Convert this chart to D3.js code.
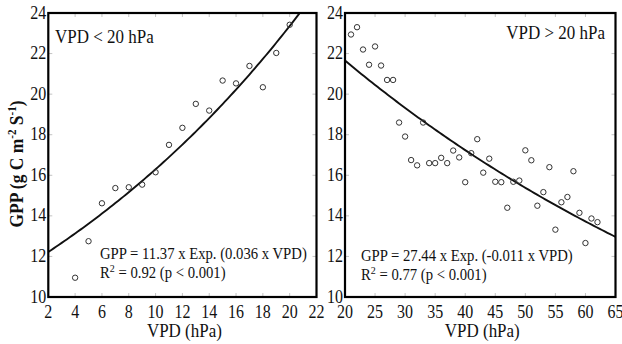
<!DOCTYPE html>
<html lang="en">
<head>
    <meta charset="UTF-8">
    <script src="https://d3js.org/d3.v7.min.js"></script>
    <style>
        body {
            margin: 0;
            background: #fff;
        }

        text {
            font-family: "Liberation Serif", "Times New Roman", serif;
            fill: #111;
        }
    </style>
    <title>GPP vs VPD</title>
</head>
<body>
<svg id="chart" width="622" height="344"></svg>
<script>
    // left panel: VPD < 20 hPa
    var lowVpd = [4, 5, 6, 7, 8, 9, 10, 11, 12, 13, 14, 15, 16, 17, 18, 19, 20]
    var lowGpp = [10.95, 12.75, 14.62, 15.37, 15.41, 15.54, 16.15, 17.5, 18.34, 19.52, 19.19, 20.67, 20.53, 21.39, 20.34, 22.03, 23.42]
    var lowFit = [11.37, 0.036]          // GPP = a * exp(b * VPD)
    var lowXTicks = [2, 4, 6, 8, 10, 12, 14, 16, 18, 20, 22]

    // right panel: VPD > 20 hPa
    var highVpd = [21, 22, 23, 24, 25, 26, 27, 28, 29, 30, 31, 32, 33, 34, 35, 36, 37, 38, 39, 40, 41,
        42, 43, 44, 45, 46, 47, 48, 49, 50, 51, 52, 53, 54, 55, 56, 57, 58, 59, 60, 61, 62]
    var highGpp = [22.94, 23.3, 22.2, 21.45, 22.35, 21.41, 20.7, 20.7, 18.6, 17.91, 16.75, 16.49, 18.6, 16.6, 16.6, 16.86, 16.6, 17.22, 16.88, 15.66, 17.09,
        17.78, 16.13, 16.82, 15.68, 15.66, 14.4, 15.68, 15.74, 17.23, 16.74, 14.5, 15.17, 16.4, 13.32, 14.67, 14.93, 16.2, 14.15, 12.66, 13.87, 13.69]
    var highFit = [27.2, -0.0114]        // curve as drawn in the figure
    var highXTicks = [20, 25, 30, 35, 40, 45, 50, 55, 60, 65]

    var yTicks = [10, 12, 14, 16, 18, 20, 22, 24]

    var svg = d3.select("#chart")
    var plotTop = 13, plotBottom = 297
    var stretch = 1.12   // the original lettering is a bit taller than wide

    var y = d3.scaleLinear().domain([10, 24]).range([plotBottom, plotTop])

    function put(sel, px, py, k) {
        return sel.attr("transform", "translate(" + px + "," + py + ") scale(1," + (k || stretch) + ")")
    }

    function panel(id, left, right, xDomain, xTicks, xs, ys, fit) {
        var x = d3.scaleLinear().domain(xDomain).range([left, right])
        var g = svg.append("g")

        g.append("clipPath").attr("id", "clip" + id)
            .append("rect")
            .attr("x", left).attr("y", plotTop)
            .attr("width", right - left).attr("height", plotBottom - plotTop)

        // faint inner ticks on all four sides
        var tk = g.append("g").attr("stroke", "#c4c4c4").attr("stroke-width", 1)
        xTicks.forEach(function (t) {
            tk.append("line").attr("x1", x(t)).attr("x2", x(t)).attr("y1", plotTop).attr("y2", plotTop + 4)
            tk.append("line").attr("x1", x(t)).attr("x2", x(t)).attr("y1", plotBottom).attr("y2", plotBottom - 4)
        })
        yTicks.forEach(function (t) {
            tk.append("line").attr("x1", left).attr("x2", left + 4).attr("y1", y(t)).attr("y2", y(t))
            tk.append("line").attr("x1", right).attr("x2", right - 4).attr("y1", y(t)).attr("y2", y(t))
        })

        // fitted curve
        var line = d3.line()
            .x(function (d) { return x(d) })
            .y(function (d) { return y(fit[0] * Math.exp(fit[1] * d)) })
        g.append("path")
            .datum(d3.range(xDomain[0], xDomain[1] + 0.01, (xDomain[1] - xDomain[0]) / 100))
            .attr("clip-path", "url(#clip" + id + ")")
            .attr("fill", "none")
            .attr("stroke", "#111")
            .attr("stroke-width", 1.9)
            .attr("d", line)

        // observations
        g.append("g")
            .selectAll("circle")
            .data(xs)
            .enter()
            .append("circle")
            .attr("cx", function (d) { return x(d) })
            .attr("cy", function (d, i) { return y(ys[i]) })
            .attr("r", 2.7)
            .attr("fill", "none")
            .attr("stroke", "#333")
            .attr("stroke-width", 1)

        // frame
        g.append("rect")
            .attr("x", left).attr("y", plotTop)
            .attr("width", right - left).attr("height", plotBottom - plotTop)
            .attr("fill", "none")
            .attr("stroke", "#000")
            .attr("stroke-width", 2.2)

        // tick labels
        g.append("g")
            .selectAll("text")
            .data(xTicks)
            .enter()
            .append("text")
            .each(function (d) { put(d3.select(this), x(d), 317.5) })
            .attr("text-anchor", "middle")
            .style("font-size", "16px")
            .text(function (d) { return d })

        g.append("g")
            .selectAll("text")
            .data(yTicks)
            .enter()
            .append("text")
            .each(function (d) { put(d3.select(this), left - 2, y(d) + 5.5) })
            .attr("text-anchor", "end")
            .style("font-size", "16px")
            .text(function (d) { return d })

        put(g.append("text"), (left + right) / 2 + 2, 337)
            .attr("text-anchor", "middle")
            .style("font-size", "17px")
            .text("VPD (hPa)")

        return g
    }

    var gl = panel("L", 48.3, 316.5, [2, 22], lowXTicks, lowVpd, lowGpp, lowFit)
    var gr = panel("R", 345, 615.5, [20, 65], highXTicks, highVpd, highGpp, highFit)

    put(gl.append("text"), 55, 43).style("font-size", "17px").text("VPD < 20 hPa")
    put(gr.append("text"), 605, 39).attr("text-anchor", "end").style("font-size", "17px").text("VPD > 20 hPa")

    function equation(g, x0, y0, txt, r2) {
        put(g.append("text"), x0, y0, 1.08).style("font-size", "14.7px").text(txt)
        var t = put(g.append("text"), x0, y0 + 19, 1.08).style("font-size", "14.7px")
        t.append("tspan").text("R")
        t.append("tspan").attr("dy", -6).style("font-size", "10px").text("2")
        t.append("tspan").attr("dy", 6).text(" = " + r2 + " (p < 0.001)")
    }
    equation(gl, 100, 259, "GPP = 11.37 x Exp. (0.036 x VPD)", "0.92")
    equation(gr, 361, 261, "GPP = 27.44 x Exp. (-0.011 x VPD)", "0.77")

    // y axis title
    var yt = svg.append("text")
        .attr("transform", "translate(23,164) rotate(-90) scale(1," + stretch + ")")
        .attr("text-anchor", "middle")
        .style("font-size", "17.5px")
        .style("font-weight", "bold")
    yt.append("tspan").text("GPP (g C m")
    yt.append("tspan").attr("dy", -6).style("font-size", "11px").text("-2")
    yt.append("tspan").attr("dy", 6).text(" S")
    yt.append("tspan").attr("dy", -6).style("font-size", "11px").text("-1")
    yt.append("tspan").attr("dy", 6).text(")")
</script>
</body>
</html>
